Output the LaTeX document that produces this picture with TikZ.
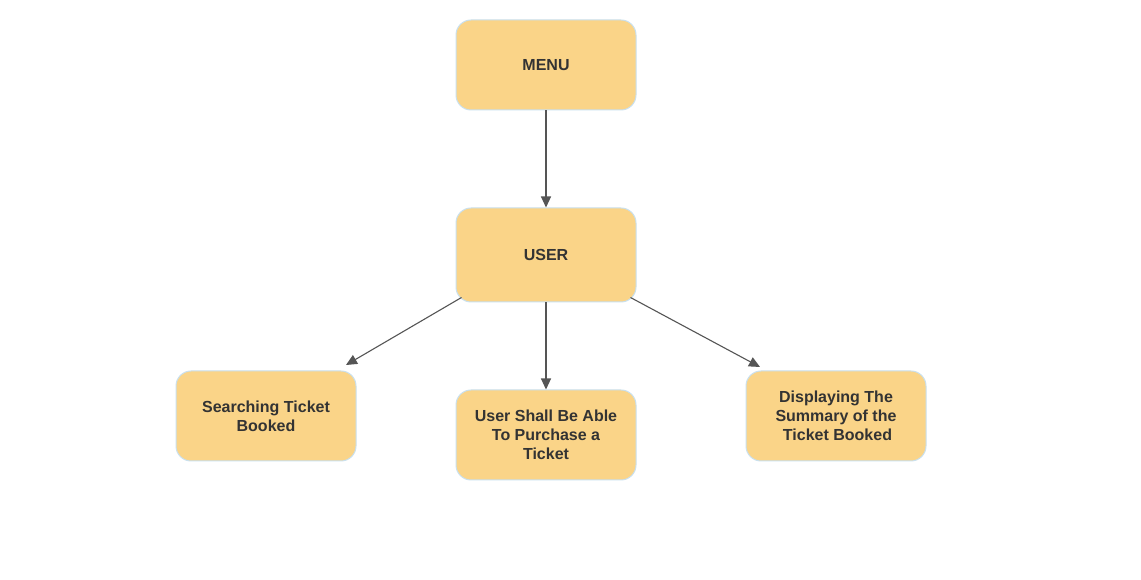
\documentclass[tikz,border=0pt]{standalone}
\usepackage{fontspec}
\setmainfont{Liberation Sans}
\usetikzlibrary{arrows.meta}
\definecolor{boxfill}{HTML}{FAD488}
\definecolor{boxline}{HTML}{C9E0EE}
\definecolor{txt}{HTML}{333333}
\definecolor{conn}{HTML}{555555}
\tikzset{
  box/.style={draw=boxline, line width=1pt, fill=boxfill, rounded corners=15pt,
    minimum width=180pt, minimum height=90pt, align=center, text=txt,
    font=\fontsize{16pt}{19pt}\selectfont\bfseries, inner sep=0pt},
  conn/.style={draw=conn, line width=1.1pt, -{Triangle[length=11pt,width=10pt]}}
}
\begin{document}
\begin{tikzpicture}[x=1pt,y=1pt]
\useasboundingbox (0,0) rectangle (1141,580);
\fill[white] (0,0) rectangle (1141,580);
\node[box] (menu) at (546,515) {MENU};
\node[box, minimum height=94pt] (user) at (546,325) {USER};
\node[box] (search) at (266,164) {Searching Ticket\\Booked};
\node[box] (purchase) at (546,145) {User Shall Be Able\\To Purchase a\\Ticket};
\node[box] (display) at (836,164) {Displaying The\\Summary of the\\\hspace{3pt}Ticket Booked};
\draw[conn] (menu) -- (user);
\draw[conn] (user.south) -- (purchase.north);
\draw[conn] (user.south west) ++(6,5) coordinate (uw) (uw) -- (346,215);
\draw[conn] (user.south east) ++(-6,5) coordinate (ue) (ue) -- (760,213);
\end{tikzpicture}
\end{document}
